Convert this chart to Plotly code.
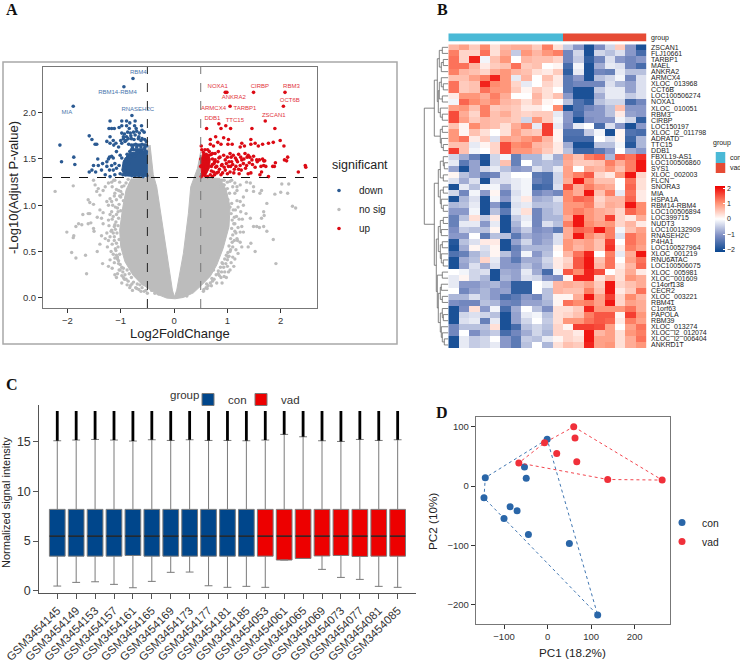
import plotly.graph_objects as go

W, H = 740, 662
FONT = "Liberation Sans"

# ---- A: volcano, values
cloud_x = [-.8, -.9, -.96, -1.02, -1.0, -.92, -.77, -.62, -.482, -.325, -.138, .019, .175, .363, .519, .68,
           .8, .92, 1.03, 1.05, .98, .86, .5, .5, .44, .313, .269, .175, .05, .019, .006, -.031, -.138, -.25,
           -.325, -.39, -.41, -.45, -.5, -.5]
cloud_y = [1.29, 1.164, .984, .732, .552, .39, .245, .155, .101, .04, -.003, -.01, .004, .054, .138, .234,
           .354, .534, .768, .984, 1.164, 1.29, 1.3, 1.58, 1.4, 1.2, .912, .48, .083, .03, .01, .083, .48, .912,
           1.2, 1.33, 1.45, 1.65, 1.6, 1.3]
nosig_x = [-2.23, -1.89, -1.51, -1.48, -1.42, -1.45, -1.33, -1.39, -1.29, -1.23, -1.17, -1.11, -1.26, -1.20, -1.11,
           -1.04, -1.61, -1.58, -1.51, -1.23, -1.17, -1.08, -1.39, -1.33, -1.71, -1.61, -1.58, -1.44, -1.36, -1.33,
           -1.23, -1.17, -1.14, -1.79, -1.73, -1.61, -1.56, -1.51, -1.50, -1.84, -2.01, -1.88, -1.89, -1.36, -1.29,
           -1.23, -1.17, -1.14, -1.11, -1.39, -1.44, -1.92, -1.84, -1.66, -1.64, -1.34, -1.23, -1.11, -1.08, -1.11,
           -1.08, -1.04, -.95, -.83, -.79, -.64, -.58, -.42, -.36, -.29,
           2.02, 2.15, 1.89, 2.00, 2.13, 2.22, 2.28, 1.74, 1.68, 1.69, 1.64, 1.55, 1.60, 1.49, 1.68, 1.74, 1.86, 1.44,
           1.39, 1.52, 1.91, 1.64, 1.61, 1.49, 1.49, 1.36, 1.30, 1.24, 1.30, 1.35, 1.43, 1.27, 1.30, 1.18, 1.10, 1.27,
           1.02, .94, .83, .71, .61, 1.18, 1.24, 1.14, 1.08, 1.36, 1.43, .24, .21, .74, .91, 1.01, 1.05,
           # fringe of the dense cloud
           -.86, -.9, -.94, -.83, -.97, -1.0, -.95, -1.03, -1.06, -1.0, -1.08, -1.04, -1.09, -1.05, -1.1, -1.07, -1.12,
           -1.03, -1.08, -1.05, -1.09, -1.02, -1.06, -1.04, -1.01, -.98, -1.01, -.96, -.92, -.95, -.88, -.9, -.84, -.86,
           -.8, -.82, -.76, -.72, -.69, -.66, -.6, -.56, -.53,
           .9, .94, .88, 1.0, .97, 1.04, 1.01, 1.08, 1.05, 1.11, 1.07, 1.13, 1.09, 1.12, 1.08, 1.14, 1.1, 1.06, 1.09,
           1.03, 1.06, 1.01, 1.03, .98, 1.0, .95, .97, .9, .93, .87, .89, .83, .85, .79, .75, .72, .68, .64, .6, .56,
           -1.13, -1.16, -1.02, -.98, -1.0, -1.08, -1.12, -1.02, -1.15, -1.1, -1.05, -1.2, -1.16, -1.22, -1.12, -1.18,
           -1.26, -1.2, -1.12, -1.16, -1.25, -1.18, -1.1, -1.14, -1.2, -1.06, -1.12, -1.16, -1.03, -1.06, -.98, -.93,
           -.98, -.88, -.78, -.7, -.62, -.5,
           1.18, 1.2, 1.25, 1.15, 1.17, 1.22, 1.28, 1.14, 1.2, 1.24, 1.16, 1.19, 1.13, 1.24, 1.16, 1.2, 1.1, 1.14, 1.07,
           1.12, 1.0, 1.05, .95, .98, .88, .9, .8, .7, .62, .55, 1.0, .94, 1.1, 1.05, 1.18, 1.14, .92]
nosig_y = [1.15, 1.21, 1.27, 1.22, 1.18, 1.15, 1.16, 1.11, 1.20, 1.24, 1.25, 1.27, 1.04, 1.07, 1.13,
           1.16, 1.06, 1.03, 1.01, 1.00, 1.04, 1.06, .95, .92, .90, .91, .91, .87, .86, .80,
           .84, .93, .88, .80, .79, .80, .81, .75, .72, .77, .71, .67, .65, .67, .64,
           .62, .73, .70, .79, .58, .50, .49, .43, .46, .26, .37, .34, .25, .22, .43,
           .46, .37, .32, .11, .15, .14, .15, .08, .05, .04,
           1.23, 1.23, 1.12, 1.14, 1.13, .99, .97, 1.02, .93, .89, .86, .77, .76, .77, .77, .72, .63, .59,
           .55, .50, .37, 1.16, 1.13, 1.15, 1.20, 1.16, 1.09, 1.04, 1.00, .91, .86, .77, .71, .64, .55, .55,
           .28, .23, .26, .21, .15, 1.16, 1.22, 1.24, 1.27, 1.25, 1.24, .02, .03, .30, .37, .44, .50,
           1.28, 1.24, 1.21, 1.22, 1.12, 1.09, 1.05, 1.01, .97, .94, .9, .86, .82, .78, .74, .7, .66,
           .63, .59, .55, .51, .47, .44, .4, .36, .33, .3, .28, .25, .22, .3, .2, .26, .18,
           .22, .13, .17, .11, .15, .09, .11, .07, .08,
           1.27, 1.22, 1.2, 1.18, 1.11, 1.13, 1.06, 1.02, .98, .95, .91, .87, .84, .8, .75, .72, .68, .64, .6,
           .56, .52, .49, .45, .46, .41, .42, .37, .38, .33, .33, .28, .29, .24, .25, .2, .18, .16, .13, .11, .09,
           1.27, 1.2, 1.25, 1.2, 1.15, 1.17, 1.1, 1.1, 1.0, .98, .93, .9, .85, .78, .77, .72,
           .7, .66, .62, .58, .55, .5, .53, .47, .41, .42, .38, .32, .3, .26, .24, .2,
           .16, .14, .08, .1, .07, .05,
           1.05, .98, .93, .95, .88, .85, .85, .8, .76, .71, .7, .62, .62, .6, .52, .48, .44, .42, .38,
           .34, .34, .3, .28, .22, .22, .16, .16, .13, .1, .07, 1.25, 1.27, 1.2, 1.26, 1.2, 1.13, 1.22]
down_core_x = [-.5, -.5, -.7, -.85, -.95, -.98, -.92]
down_core_y = [1.31, 1.58, 1.58, 1.56, 1.48, 1.38, 1.31]
down_x = [-.77, -.94, -1.89, -.79, -.85, -.8, -.76, -.72, -.68, -.64, -.6, -.56, -.53, -.51, -.55, -.62, -.7, -.78,
          -.9, -.95, -1.0, -.86, -.8, -.75, -.67, -.6, -.55, -.52, -.98, -.93, -.87, -.82, -.76, -.7, -.65, -.6, -.56,
          -1.2, -.98, -.89, -.73, -1.22, -1.17, -1.12, -1.03, -.98, -.89, -.83, -.74, -.71, -.61, -.84, -1.59, -1.54,
          -1.48, -1.45, -2.14, -1.88, -2.11, -1.86, -1.26, -1.2, -1.14, -1.2, -1.09, -.95, -.89, -.81, -.73, -.66, -.62,
          -1.59, -1.54, -1.47, -1.51, -1.43, -1.42, -1.34, -1.36, -1.29, -1.26, -1.26, -1.23, -1.21, -1.17, -1.14, -1.11,
          -1.17, -1.21, -1.14, -1.08, -1.03, -.98, -1.01, -1.08, -1.13, -1.04, -.98, -.92, -1.01, -1.11, -1.2, -.92, -.89,
          -.96, -.93, -.9, -.88, -.85, -.83, -.82, -.8, -.78, -.76, -.74, -.72, -.7, -.68, -.66, -.64, -.62, -.6, -.58,
          -.55, -.52, -.86, -.84, -.81, -.79, -.77, -.73, -.7, -.66, -.62, -.58, -.54, -.51]
down_y = [2.37, 2.28, 2.07, 1.97, 1.66, 1.65, 1.65, 1.66, 1.65, 1.65, 1.66, 1.65, 1.65, 1.64, 1.62, 1.63, 1.63, 1.62,
          1.7, 1.72, 1.7, 1.72, 1.72, 1.71, 1.72, 1.72, 1.71, 1.69, 1.78, 1.77, 1.79, 1.78, 1.79, 1.8, 1.78, 1.81, 1.79,
          1.91, 1.91, 1.91, 1.91, 1.83, 1.83, 1.83, 1.84, 1.86, 1.86, 1.89, 1.86, 1.83, 1.86, 1.83, 1.75, 1.71,
          1.66, 1.66, 1.65, 1.52, 1.47, 1.44, 1.69, 1.74, 1.7, 1.67, 1.67, 1.74, 1.74, 1.75, 1.76, 1.74, 1.7,
          1.36, 1.38, 1.36, 1.43, 1.5, 1.43, 1.45, 1.38, 1.33, 1.42, 1.47, 1.5, 1.52, 1.53, 1.51, 1.45,
          1.43, 1.38, 1.38, 1.4, 1.43, 1.51, 1.54, 1.58, 1.65, 1.63, 1.67, 1.69, 1.34, 1.33, 1.31, 1.4, 1.34,
          1.33, 1.46, 1.5, 1.55, 1.45, 1.58, 1.52, 1.6, 1.56, 1.6, 1.53, 1.6, 1.57, 1.6, 1.58, 1.6, 1.58, 1.6, 1.57,
          1.6, 1.58, 1.37, 1.33, 1.36, 1.32, 1.35, 1.32, 1.34, 1.32, 1.33, 1.31, 1.33, 1.32]
up_core_x = [.52, .5, .53, .62, .68, .66, .6]
up_core_y = [1.32, 1.45, 1.55, 1.56, 1.5, 1.4, 1.33]
up_x = [.96, .99, 1.49, 2.08, 2.05, 1.05, 1.71, .84, .88, .61, 1.06, .97, 1.46, 1.89,
        .51, .68, .78, .93, 1.02, .82, .68, .74, .88, 1.01, 1.09, 1.24, 1.27, 1.32, 1.44, 1.44, 1.52, 1.58, 1.66, 1.77,
        1.86, 1.99, 2.06, 2.13, 2.07, 2.11, 2.46, 2.47, 2.33, 1.9, 1.85, 1.88, 1.77, 1.68, 1.68, 1.64, 1.61, 1.55, 1.46,
        1.39, 1.33, 1.21, 1.27, 1.36, 1.44, 1.39, 1.24, 1.17, 1.11, 1.05, 1.08, 1.02, 1.13, 1.21, 1.05, .96, .89, .96,
        .93, .83, .77, .84, .77, .8, .74, .83, .88,
        .52, .55, .58, .6, .63, .66, .7, .72, .72, .7, .68, .75, .63, .58, .54, .51, .5, .5, .52,
        .72, .76, .78, .8, .82, .85, .86, .9, .91, .94, .98, 1.0, 1.0, 1.03, 1.06, 1.07, 1.1, 1.12, 1.15, 1.16, 1.19,
        1.22, 1.25, 1.26, 1.3, 1.31, 1.34, 1.37, 1.41, 1.42, 1.47, 1.49, 1.52, 1.56, 1.6, 1.63, 1.66, 1.72, 1.7, .76,
        .7, .72, .66, .64, .6, .57, .55]
up_y = [2.22, 2.22, 2.22, 2.22, 2.07, 2.07, 1.91, 1.88, 1.83, 1.83, 1.83, 1.86, 1.83, 1.83,
        1.64, 1.71, 1.74, 1.73, 1.71, 1.68, 1.66, 1.64, 1.66, 1.66, 1.66, 1.63, 1.67, 1.64, 1.71, 1.66, 1.67, 1.64, 1.66, 1.67,
        1.68, 1.7, 1.64, 1.52, 1.49, 1.48, 1.43, 1.41, 1.36, 1.46, 1.42, 1.42, 1.31, 1.48, 1.43, 1.36, 1.33, 1.49, 1.49,
        1.54, 1.56, 1.55, 1.49, 1.43, 1.35, 1.34, 1.43, 1.49, 1.54, 1.56, 1.47, 1.42, 1.39, 1.39, 1.36, 1.38, 1.43, 1.49,
        1.54, 1.58, 1.56, 1.51, 1.49, 1.42, 1.36, 1.36, 1.33,
        1.6, 1.57, 1.6, 1.55, 1.6, 1.54, 1.55, 1.5, 1.44, 1.37, 1.33, 1.45, 1.31, 1.32, 1.33, 1.31, 1.42, 1.5, 1.47,
        1.56, 1.47, 1.41, 1.35, 1.47, 1.39, 1.52, 1.44, 1.35, 1.41, 1.45, 1.52, 1.34, 1.47, 1.42, 1.52, 1.44, 1.35, 1.51, 1.42, 1.47,
        1.34, 1.52, 1.38, 1.45, 1.5, 1.4, 1.52, 1.46, 1.52, 1.44, 1.53, 1.41, 1.47, 1.49, 1.42, 1.5, 1.42, 1.48, 1.33,
        1.42, 1.31, 1.58, 1.47, 1.41, 1.5, 1.36]
label_down = ["RBM4", "RBM14-RBM4", "MIA", "RNASEH2C"]
label_down_x = [-.67, -1.06, -2.01, -.68]
label_down_y = [2.44, 2.22, 2.0, 2.03]
label_up = ["NOXA1", "CIRBP", "RBM3", "OCT6B", "ANKRA2", "ARMCX4", "TARBP1", "DDB1", "TTC15", "ZSCAN1"]
label_up_x = [.82, 1.61, 2.2, 2.17, 1.12, .74, 1.33, .72, 1.14, 1.87]
label_up_y = [2.28, 2.28, 2.28, 2.13, 2.16, 2.05, 2.05, 1.94, 1.92, 1.97]

# ---- B: heatmap
genes = ["ZSCAN1", "FLJ10661", "TARBP1", "MAEL", "ANKRA2", "ARMCX4", "XLOC_013968", "CCT6B", "LOC100506274", "NOXA1",
         "XLOC_010051", "RBM3", "CIRBP", "LOC150197", "XLOC_l2_011798", "ADRATD", "TTC15", "DDB1", "FBXL19-AS1",
         "LOC100506860", "SYS1", "XLOC_002003", "FLCN", "SNORA3", "MIA", "HSPA1A", "RBM14-RBM4", "LOC100506894",
         "LOC399715", "NUDT3", "LOC100132909", "RNASEH2C", "P4HA1", "LOC100527964", "XLOC_001219", "RNU6ATAC",
         "LOC100506075", "XLOC_005981", "XLOC_001609", "C14orf138", "CECR2", "XLOC_003221", "RBM41", "C1orf63",
         "PAPOLA", "RBM39", "XLOC_013274", "XLOC_l2_012074", "XLOC_l2_006404", "ANKRD1T"]
heat_values = [
    [.7, .9, .5, 1.1, .3, .7, .8, .8, .5, 1.2, .3, -.5, -1, -2, -1.1, -.4, .5, -1, -2],
    [1.2, .4, .4, 1.3, .3, .8, -.5, 1, .7, 1, 1.2, -1.2, -.4, -2, -.4, -.6, -.3, -1, -1.6],
    [1.3, .4, 1.9, -.1, .6, 1, 0, .7, .6, .6, .4, -1.2, -.5, -1.8, -1.2, -.3, -1, -1.2, -1],
    [1.3, 1.3, .7, .2, .5, .6, 1.3, .5, .6, 0, .1, -1.6, -.1, -2, -.8, -.2, -.3, -1.2, -1.6],
    [1.2, .7, .6, .4, .8, 1, .7, .6, .3, .2, .5, -1.8, -.2, -2, -1.2, -1.3, -.2, -.6, -.6],
    [.6, .6, .9, 1.2, 1.9, 1, -.2, .7, 0, .6, .2, -1.4, -1, -2, -.6, -.4, -.1, -1.2, -.3],
    [1.3, .5, .6, 1.9, 1.1, 1, .4, -.2, 0, .4, .2, -1.4, -1.2, -1.2, -1.2, -.3, -.7, -.9, -.3],
    [1.3, .5, .6, 1.3, 1, 1, .5, .1, .5, .3, 0, -1.4, -2, -2, -.5, -.2, -.2, -.9, -.3],
    [.2, 1, 1, .8, 1.2, .8, 0, 0, .7, .3, .6, -1, -2, -2, -.8, -.2, -.2, -.5, -.3],
    [-.1, 1.4, 1.1, .9, 1.1, .7, .6, .3, .6, .1, 0, -.6, -1.5, -1.8, -.6, -.4, -.4, -1.6, -1.2],
    [.9, 1, .6, 1.2, .5, .6, .5, .2, .2, 0, 1.1, -2, -1.5, -1.2, -1, -.6, .6, -1, -1],
    [1.6, .8, .4, 1.2, .6, .8, .5, .4, .5, .5, -.2, -1, -1.6, -1, -1, -.6, .2, -.9, -1],
    [1.6, .9, .5, .7, .6, .6, .5, -.4, 1, .5, -.1, -1, -2, -1.1, -1, -1, -.1, -.4, -1.8],
    [.6, .1, 1.1, .7, .6, .3, .8, 1.2, -.2, 1.7, -.2, -1.1, -.2, 0, -1.6, -.3, -1, -2, -1],
    [1, .1, .6, .3, 0, .3, .9, .6, .5, 1.7, .1, -1.5, -1.5, -.5, -.1, -2, .1, -1.5, -1.6],
    [1, 1.3, .2, .5, -.3, .9, .8, 1, 1.2, .7, .1, -1.6, -1.6, -1.6, 0, -.3, .1, -1.7, -.7],
    [.6, .6, -.2, .1, .4, 1.6, 1.1, 1.2, .7, .6, .2, -.8, -2, -2, -.6, -.6, -.1, -1.9, -.7],
    [1.7, .6, -.1, 0, .4, 1.6, 1, 1, .8, .5, .2, -.6, -1.7, -1.7, -1.4, -1, 0, -.8, -1],
    [-.4, -.8, -1.3, -1.9, -.4, -.1, -1.3, -.7, -.7, -.2, -.8, .9, .6, 1.2, 1.4, -.7, 1.5, 1.3, 1.8],
    [-.2, -1.4, -.9, -2, -.4, .6, -1.3, 0, -.7, -.6, -.7, .8, .5, .5, .6, 1.2, .8, 1.2, 2],
    [-.9, -2, -.9, -.4, -.2, -.6, -1, -.9, -.3, -.6, -.2, .9, 0, .8, .7, 1, .6, 1.2, 2],
    [.1, -.6, -.9, -1.4, -1.2, -.3, 0, 0, -1.4, -1.5, -.4, .9, 1.2, 1.5, .4, .2, 1, 2, .4],
    [-.3, -.8, -.3, -2, -.3, -.3, -.2, -.1, -1.3, -1.5, -.4, .8, 2, 1, .6, .6, 0, 1.3, .3],
    [-2, -.2, -.6, -.1, -.1, -.8, -.2, -.1, -1.7, -1.6, -.3, 1.6, .8, 1.2, .9, .8, 0, 1.4, .3],
    [-.4, -1.2, -.1, -1, .1, -1.2, -.3, -.1, -1.2, -1, -1.2, 1.1, .8, 2, .6, 1.2, -.2, 1.3, .2],
    [-2, -.7, -.3, -2, -.1, -1, -.2, .2, -.8, -.7, -.3, 1.1, 1.4, 1.3, .4, .7, .7, 1.4, .2],
    [-.7, -.6, -.2, -2, -1, -1.9, -.3, -.2, -.6, -.6, -.5, 1, 1, 1.2, .5, .8, .7, 2, 1.1],
    [-1, -1, -.1, -2, -.6, -1.4, -.2, .3, -1.2, -.7, -.5, 1, 1.2, 1, .8, .7, .4, 1.4, 1.1],
    [-1.3, -.6, .3, -.5, .2, -2, -.5, -.2, -1.2, -.7, -.7, .8, 2, 1, .8, 1.7, .4, .2, .8],
    [-1.3, -.2, -.2, -1, -.2, -2, -.7, -.1, -1.2, -.3, -.6, 1.2, 2, 1.1, .9, 1, .4, .7, .2],
    [-1.1, -.5, -.6, -.6, .1, -2, -.9, -.5, -1.1, -1, -1.4, .8, 1.4, 1.3, 2, 1.2, -.1, .6, .9],
    [-1, -1, 0, -1.4, -.6, -.6, -1.4, -.8, -1, -.9, -.3, .8, 2, 1.1, .8, 1.2, -.3, 1.3, 1],
    [-1.9, -.6, -.3, .2, .2, -2, -.9, -.4, -1, -.8, -.3, 1, .8, .9, .6, 1.7, 0, 1.3, 1],
    [-2, -.8, .1, -.3, .1, -2, -1.3, -.7, -.7, -.7, .1, 1, .7, .9, .6, 1.8, .2, 1.2, .9],
    [-1.5, -1.3, -.7, -.4, .1, -.6, -1.2, -.1, -1, -.6, 0, .7, 1.3, 1.9, 0, 1.2, -.2, .8, 2],
    [-2, -.8, -.6, .4, -.2, -1, -1.4, -.8, -.8, -.4, .2, .4, 1.5, 2, .6, 1.3, 0, .9, 1.3],
    [-2, -.9, -.3, -.8, -.3, -1, -1, -.6, -.9, -.5, .2, .5, 1.5, 2, .7, 1.3, .2, .7, 1.4],
    [0, -.1, -.4, -.3, -2, -.8, -.9, -.2, -.8, -1.6, -.1, 1.5, 1.1, 1.9, 1.6, 0, .3, .8, .2],
    [-.2, .1, -.4, -.7, -2, -.7, -.9, -.3, -.4, -1, -1.1, .1, 1.9, 1.9, .3, .7, .3, 1, .8],
    [-.2, -1, -1, -.8, -.7, -1, -1.8, -1.8, 0, -.2, .7, .8, .7, .9, .5, 2, .4, .6, .8],
    [0, -1.2, -.9, -.7, -1, -.9, -1.8, -1.8, 0, -.6, .7, .6, .6, 1.2, .6, 2, .2, .5, 1.3],
    [-.7, -.7, -.3, -.7, -1, -1.6, -1.4, -1, -1.2, -.6, .1, .1, .8, 2, .9, 1.7, .4, 1.1, .7],
    [-1.1, -1.2, -1.2, -.6, -.7, -1.2, -1.3, -.9, -.9, -.7, .1, 1.3, 1.1, 1.2, .9, 2, .4, .9, .8],
    [-2, -1.1, .3, -1, -.1, -1.6, -.8, 0, -.6, -1.1, .3, .3, .5, 1.9, 1, 1, 1, 1.3, .8],
    [-2, -.4, -.3, -.4, -.6, -2, -.9, -.2, -.1, -.6, .3, .4, .6, 1.2, 1.5, 1.5, .1, 1.7, 1],
    [-2, -.3, -.2, -1.3, -.2, -2, -.9, -.4, 0, -.5, .3, 1, 1, 1.3, 1.5, 1.4, .2, 1.2, .9],
    [-1.2, -.6, -.6, -.6, .3, -2, -1.6, -.6, -.4, -.6, .4, .1, 1.7, 1.7, 1.6, .9, 0, .9, 1.3],
    [-1.2, 0, -1.1, -.7, -.5, -1.6, -1.2, -.8, -.4, -.7, .4, .4, .2, 2, .7, .9, .3, 1, 1.2],
    [-2, -.2, -.5, -.4, 0, -1, -1.4, -.5, -.6, -.2, .1, .4, .3, 2, .9, .9, .3, .8, 1.3],
    [-2, -.2, -.5, -.4, -.2, -1, -1.4, -.6, 0, -.7, .3, .6, .5, 1.9, .9, 1, .3, .8, 1],
]
group_values = [0] * 11 + [1] * 8
# row tree as [height, left, right], leaves are row numbers
tree_top = [14,
            [11, [9, [6, 0, 1], [7, [5, 2, 3], 4]],
             [10, [9, [7, 5, [5, 6, 7]], [6, 8, 9]], [8, 10, [6, 11, 12]]]],
            [8, [6, 13, 14], [7, 15, [5, 16, 17]]]]
tree_bottom = [14,
               [10, [8, [5, 18, [4, 19, 20]], [5, 21, 22]], [8, [5, 23, 24], [7, 25, [5, 26, 27]]]],
               [12, [10, [8, [5, 28, 29], [7, 30, 31]], [8, [6, 32, 33], [7, 34, [5, 35, 36]]]],
                [11, [6, 37, 38], [10, [8, [7, 39, 40], [6, 41, 42]],
                                   [8, [6, 43, [5, 44, 45]], [7, 46, [6, 47, [4, 48, 49]]]]]]]]
row_tree = [24, tree_top, tree_bottom]

# ---- C: boxplots
samples = ["GSM3454145", "GSM3454149", "GSM3454153", "GSM3454157", "GSM3454161", "GSM3454165", "GSM3454169",
           "GSM3454173", "GSM3454177", "GSM3454181", "GSM3454185", "GSM3454053", "GSM3454061", "GSM3454065",
           "GSM3454069", "GSM3454073", "GSM3454077", "GSM3454081", "GSM3454085"]
box_q1 = [3.48, 3.48, 3.48, 3.48, 3.55, 3.48, 3.48, 3.48, 3.48, 3.48, 3.48, 3.48, 3.09, 3.25, 3.5, 3.55, 3.45, 3.48, 3.48]
box_median = [5.5] * 19
box_q3 = [8.19] * 19
box_low = [.47, .84, .9, .64, .3, .94, 1.85, 1.88, .5, .34, .44, .34, 3.09, 3.25, 2.15, 1.34, 1.14, .44, .34]
box_high = [15.1, 15.17, 15.23, 15.17, 15.07, 15.2, 15.13, 15.2, 15.13, 15.13, 15.1, 15.17, 15.74, 15.5, 15.1, 15.03,
            15.23, 15.13, 15.2]
outlier_top = 18.1

# ---- D: PCA
con_x = [-1, -53, -49, -143, -146, -86, -70, -100, -44, 50, 115]
con_y = [79, 32, 13, 14, -20, -35, -42, -55, -82, -97, -218]
vad_x = [60, 63, -7, 21, 67, -66, 138, 263]
vad_y = [100, 81, 73, 55, 41, 39, 11, 10]
con_hull = [0, 3, 4, 10, 0]
vad_hull = [0, 7, 6, 5, 2, 0]


def dom_x(a, b):
    return [a / W, b / W]


def dom_y(top, bottom):
    return [1 - bottom / H, 1 - top / H]


def note(text, x, y, size, color="#222", angle=0, family=FONT):
    return dict(text=text, x=x / W, y=1 - y / H, xref="paper", yref="paper", showarrow=False, xanchor="center",
                yanchor="middle", textangle=angle, font=dict(size=size, color=color, family=family))


fig = go.Figure()

# volcano
fig.add_trace(go.Scatter(x=cloud_x, y=cloud_y, mode="lines", fill="toself", fillcolor="#bcbcbc",
                         line=dict(color="#bcbcbc", width=1), showlegend=False, hoverinfo="skip"))
fig.add_trace(go.Scatter(x=nosig_x, y=nosig_y, mode="markers", name="no sig", legendrank=2,
                         marker=dict(color="#bcbcbc", size=3.4)))
fig.add_trace(go.Scatter(x=down_core_x, y=down_core_y, mode="lines", fill="toself", fillcolor="#2b5a92",
                         line=dict(color="#2b5a92", width=1), showlegend=False, hoverinfo="skip"))
fig.add_trace(go.Scatter(x=down_x, y=down_y, mode="markers", name="down", legendrank=1,
                         marker=dict(color="#2b5a92", size=3.6)))
fig.add_trace(go.Scatter(x=up_core_x, y=up_core_y, mode="lines", fill="toself", fillcolor="#dc0a14",
                         line=dict(color="#dc0a14", width=1), showlegend=False, hoverinfo="skip"))
fig.add_trace(go.Scatter(x=up_x, y=up_y, mode="markers", name="up", legendrank=3,
                         marker=dict(color="#dc0a14", size=3.6)))
fig.add_trace(go.Scatter(x=label_down_x, y=label_down_y, mode="text", text=label_down, showlegend=False,
                         textfont=dict(size=6, color="#4a76ad", family=FONT)))
fig.add_trace(go.Scatter(x=label_up_x, y=label_up_y, mode="text", text=label_up, showlegend=False,
                         textfont=dict(size=6, color="#e2343c", family=FONT)))

# dendrogram
dend_x, dend_y = [], []


def walk(node):
    if isinstance(node, int):
        return 0, node
    hl, yl = walk(node[1])
    hr, yr = walk(node[2])
    dend_x.extend([hl, node[0], node[0], hr, None])
    dend_y.extend([yl, yl, yr, yr, None])
    return node[0], (yl + yr) / 2


walk(row_tree)
fig.add_trace(go.Scatter(x=dend_x, y=dend_y, mode="lines", line=dict(color="#666", width=0.8), showlegend=False,
                         xaxis="x2", yaxis="y2", hoverinfo="skip"))

# annotation bar, heatmap, group swatches
fig.add_trace(go.Heatmap(z=[group_values], y=["group"], colorscale=[[0, "#4ab9d6"], [1, "#e64b35"]], showscale=False,
                         xaxis="x3", yaxis="y3"))
heat_scale = [[0, "#08468f"], [.25, "#7f8fc4"], [.5, "#ffffff"], [.75, "#ff8e70"], [1, "#ee0000"]]
fig.add_trace(go.Heatmap(z=heat_values, zmin=-2.17, zmax=2.17, colorscale=heat_scale, xaxis="x4", yaxis="y4",
                         colorbar=dict(x=715 / W, xanchor="left", y=1 - 219 / H, yanchor="middle", len=66 / H,
                                       thickness=10, xpad=0, ypad=0, outlinewidth=0, tickvals=[-2, -1, 0, 1, 2],
                                       ticks="inside", ticklen=2, tickcolor="white",
                                       tickfont=dict(size=7, family=FONT, color="#222"))))
fig.add_trace(go.Heatmap(z=[[0], [1]], y=["con", "vad"], colorscale=[[0, "#4ab9d6"], [1, "#e64b35"]], showscale=False,
                         xaxis="x5", yaxis="y5"))

# boxplots, each group has its own legend so the two entries can sit close together
for name, color, a, b, box_legend in [("con", "#00468b", 0, 11, "legend2"), ("vad", "#ed0000", 11, 19, "legend4")]:
    fig.add_trace(go.Box(x=samples[a:b], q1=box_q1[a:b], median=box_median[a:b], q3=box_q3[a:b],
                         lowerfence=box_low[a:b], upperfence=box_high[a:b], name=name, fillcolor=color,
                         line=dict(color="#7a7a7a", width=1), width=0.83, whiskerwidth=0.5, boxpoints=False,
                         xaxis="x6", yaxis="y6", legend=box_legend))
out_x, out_y = [], []
for s, top in zip(samples, box_high):
    out_x += [s, s, None]
    out_y += [top, outlier_top, None]
fig.add_trace(go.Scatter(x=out_x, y=out_y, mode="lines", line=dict(color="black", width=2.8), showlegend=False,
                         xaxis="x6", yaxis="y6", hoverinfo="skip"))
# line-ew is drawn 1.4 times its size
fig.add_trace(go.Scatter(x=samples, y=box_median, mode="markers", showlegend=False, xaxis="x6", yaxis="y6",
                         marker=dict(symbol="line-ew", size=11, line=dict(color="black", width=1))))

# PCA
for name, color, xs, ys, hull in [("con", "#2a66a8", con_x, con_y, con_hull), ("vad", "#f0303a", vad_x, vad_y, vad_hull)]:
    fig.add_trace(go.Scatter(x=[xs[i] for i in hull], y=[ys[i] for i in hull], mode="lines", showlegend=False,
                             line=dict(color=color, width=0.9, dash="dot"), xaxis="x7", yaxis="y7", hoverinfo="skip"))
    fig.add_trace(go.Scatter(x=xs, y=ys, mode="markers", name=name, marker=dict(color=color, size=7),
                             xaxis="x7", yaxis="y7", legend="legend3"))

tick9 = dict(size=9.5, family=FONT, color="#333")
frame = dict(showgrid=False, zeroline=False, showline=True, linecolor="#777", linewidth=1, mirror=True,
             ticks="outside", ticklen=4, tickcolor="#333", tickfont=tick9)
hidden = dict(visible=False, showgrid=False, zeroline=False)
label7 = dict(size=7, family=FONT, color="#222")

fig.update_layout(
    template="none", width=W, height=H, autosize=False, margin=dict(l=0, r=0, t=0, b=0, autoexpand=False),
    paper_bgcolor="white", plot_bgcolor="white", font=dict(family=FONT, color="#222"), boxmode="overlay",
    xaxis=dict(domain=dom_x(43, 317), range=[-2.457, 2.68], tickvals=[-2, -1, 0, 1, 2], **frame),
    yaxis=dict(domain=dom_y(67, 308), range=[-.11, 2.494], tickvals=[0, .5, 1, 1.5, 2], tickformat=".1f", **frame),
    xaxis2=dict(domain=dom_x(422.3, 448.3), range=[26, 0], **hidden),
    yaxis2=dict(domain=dom_y(44.3, 348), range=[49.5, -.5], **hidden),
    xaxis3=dict(domain=dom_x(448.3, 646.7), **hidden),
    yaxis3=dict(domain=dom_y(33.3, 41.7), side="right", anchor="x3", ticks="outside", ticklen=2, tickcolor="white",
                tickfont=label7, showgrid=False, zeroline=False, showline=False),
    xaxis4=dict(domain=dom_x(448.3, 646.7), **hidden),
    yaxis4=dict(domain=dom_y(44.3, 348), range=[49.5, -.5], side="right", anchor="x4", tickvals=list(range(50)),
                ticktext=genes, ticks="outside", ticklen=2, tickcolor="white", tickfont=label7, showgrid=False,
                zeroline=False, showline=False),
    xaxis5=dict(domain=dom_x(715.5, 725.5), **hidden),
    yaxis5=dict(domain=dom_y(152, 173), range=[1.5, -.5], side="right", anchor="x5", ticks="outside", ticklen=2,
                tickcolor="white", tickfont=label7, showgrid=False, zeroline=False, showline=False),
    xaxis6=dict(domain=dom_x(39.3, 416), range=[-.95, 18.97], type="category", categoryorder="array",
                categoryarray=samples, tickangle=-45, anchor="y6", showgrid=False, zeroline=False, showline=True,
                linecolor="#555", ticks="outside", ticklen=5, tickcolor="#555",
                tickfont=dict(size=11.5, family=FONT, color="#333")),
    yaxis6=dict(domain=dom_y(405, 593.3), range=[-.26, 18.7], tickvals=[0, 5, 10, 15], anchor="x6", showgrid=False,
                zeroline=False, showline=True, linecolor="#555", ticks="outside", ticklen=5, tickcolor="#555",
                tickfont=dict(size=12.5, family=FONT, color="#333")),
    xaxis7=dict(domain=dom_x(475.7, 670), range=[-165, 281], tickvals=[-100, 0, 100, 200], anchor="y7",
                tickformat="d", **frame),
    yaxis7=dict(domain=dom_y(416.7, 624), range=[-233, 117], tickvals=[-200, -100, 0, 100], anchor="x7",
                tickformat="d", **frame),
    legend=dict(x=319 / W, y=1 - 176 / H, xanchor="left", yanchor="top", bgcolor="rgba(0,0,0,0)", itemsizing="trace",
                font=dict(size=10, family=FONT, color="#222")),
    legend2=dict(x=188 / W, y=1 - 385 / H, xanchor="left", yanchor="top", bgcolor="rgba(0,0,0,0)",
                 font=dict(size=11.5, family=FONT, color="#333")),
    legend4=dict(x=241 / W, y=1 - 385 / H, xanchor="left", yanchor="top", bgcolor="rgba(0,0,0,0)",
                 font=dict(size=11.5, family=FONT, color="#333")),
    legend3=dict(x=662 / W, y=1 - 508 / H, xanchor="left", yanchor="top", bgcolor="rgba(0,0,0,0)", itemsizing="trace",
                 font=dict(size=10.3, family=FONT, color="#222")),
    shapes=[
        dict(type="rect", xref="paper", yref="paper", x0=3 / W, x1=397 / W, y0=1 - 344 / H, y1=1 - 62 / H,
             line=dict(color="#a8a8a8", width=1.5), layer="below"),
        dict(type="line", xref="x", yref="y", x0=-2.457, x1=2.68, y0=1.3, y1=1.3,
             line=dict(color="#111", width=1, dash="dash")),
        dict(type="line", xref="x", yref="y", x0=-.5, x1=-.5, y0=-.11, y1=2.494,
             line=dict(color="#222", width=1, dash="dash")),
        dict(type="line", xref="x", yref="y", x0=.5, x1=.5, y0=-.11, y1=2.494,
             line=dict(color="#777", width=1, dash="dash")),
    ],
    annotations=[
        note("<b>A</b>", 12, 10, 16, "#111", family="Liberation Serif"),
        note("<b>B</b>", 442, 10, 16, "#111", family="Liberation Serif"),
        note("<b>C</b>", 12, 384, 16, "#111", family="Liberation Serif"),
        note("<b>D</b>", 442, 412, 16, "#111", family="Liberation Serif"),
        note("Log2FoldChange", 180, 333, 13),
        note("-Log10(Adjust P-value)", 13, 188, 13, angle=-90),
        note("significant", 360, 165, 12.5),
        note("group", 722, 143, 7),
        note("group", 184, 395, 11.5, "#333"),
        note("Normalized signal intensity", 6, 503, 11, angle=-90),
        note("PC1 (18.2%)", 572, 652, 11.7),
        note("PC2 (10%)", 432, 522, 11.7, angle=-90),
    ],
)

fig.write_html("out.html", config={"displayModeBar": False},
               post_script="document.body.style.margin='0';document.body.style.overflow='hidden';")
